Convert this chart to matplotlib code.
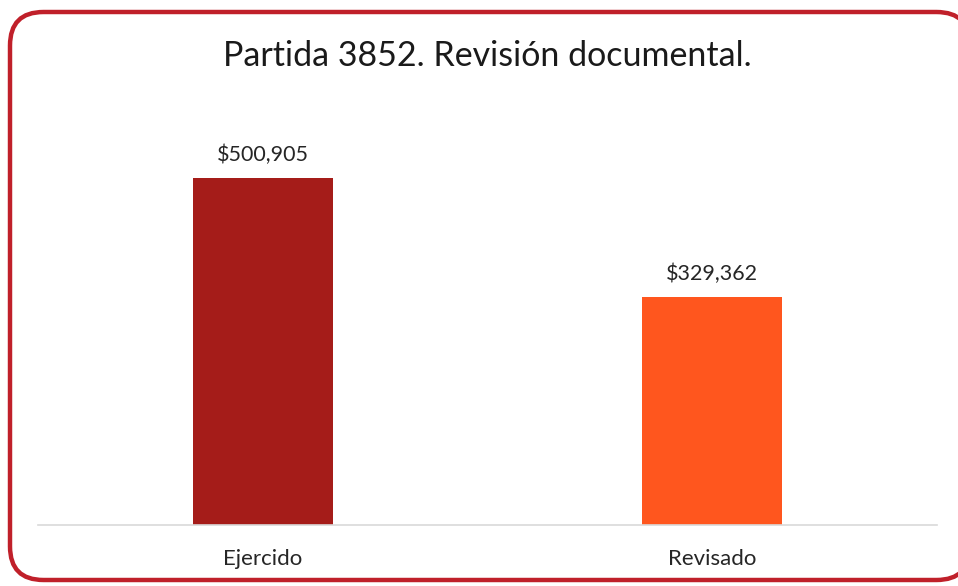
import matplotlib.pyplot as plt
from matplotlib.patches import FancyBboxPatch

categorias = ['Ejercido', 'Revisado']
montos = [500905, 329362]
etiquetas = ['$500,905', '$329,362']
colores = ['#A51C19', '#FF561E']

plt.rcParams['font.family'] = ['Lato', 'DejaVu Sans']

fig = plt.figure(figsize=(9.58, 5.86), dpi=100)
W, H = 958, 586

# marco redondeado rojo
marco = FancyBboxPatch((10 / W, 6 / H), 960 / W, 568 / H,
                       boxstyle='round,pad=0,rounding_size=0.035',
                       transform=fig.transFigure, facecolor='white',
                       edgecolor='#C0202A', linewidth=3.2, mutation_aspect=W / H,
                       zorder=-5)
fig.patches.append(marco)

# ejes: x de 38 a 937 px, y base en 525 px
ax = fig.add_axes([38 / W, (H - 525) / H, 899 / W, 425 / H])
ax.set_facecolor('none')
ax.set_zorder(2)
x = range(len(categorias))
barras = ax.bar(x, montos, width=0.311, color=colores)
ax.set_xlim(-0.5, 1.5)
ax.set_ylim(0, 500905 * 425 / 347)

for b, t in zip(barras, etiquetas):
    ax.annotate(t, (b.get_x() + b.get_width() / 2, b.get_height()),
                xytext=(0, 9), textcoords='offset points',
                ha='center', va='bottom', fontsize=15.5, color='#262626')

ax.set_xticks(list(x))
ax.set_xticklabels(categorias, fontsize=16, color='#262626')
ax.tick_params(axis='x', length=0, pad=17)
ax.set_yticks([])
for s in ['top', 'right', 'left']:
    ax.spines[s].set_visible(False)
ax.spines['bottom'].set_color('#D9D9D9')
ax.spines['bottom'].set_linewidth(1.2)

fig.text(487 / W, 1 - 56 / H, 'Partida 3852. Revisión documental.',
         ha='center', va='center', fontsize=24.5, color='#1a1a1a')

fig.savefig('out.png', dpi=100)
